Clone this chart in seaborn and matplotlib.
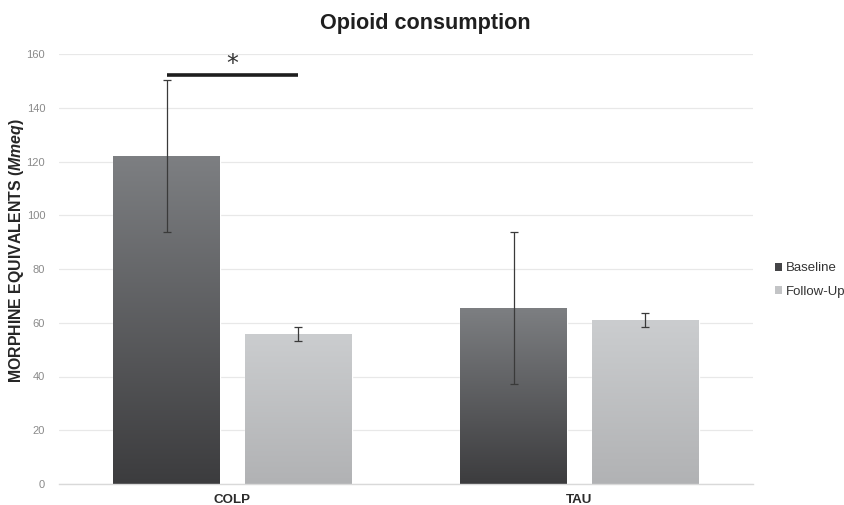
import numpy as np
import pandas as pd
import seaborn as sns
import matplotlib.pyplot as plt
from matplotlib.colors import LinearSegmentedColormap
from matplotlib.patches import Patch

# --- data -------------------------------------------------------------
groups = ["COLP", "TAU"]
conditions = ["Baseline", "Follow-Up"]
baseline = [122.0, 65.5]
baseline_err = [28.2, 28.2]
followup = [55.8, 61.0]
followup_err = [2.6, 2.7]
y_ticks = [0, 20, 40, 60, 80, 100, 120, 140, 160]
sig_level = 152.2  # bracket height for the COLP comparison

df = pd.DataFrame({
    "group": groups * 2,
    "condition": [conditions[0]] * 2 + [conditions[1]] * 2,
    "value": baseline + followup,
})
errors = {conditions[0]: baseline_err, conditions[1]: followup_err}

# --- styling ----------------------------------------------------------
sns.set_style("white")
plt.rcParams["font.family"] = ["Liberation Sans", "DejaVu Sans"]
plt.rcParams["mathtext.fontset"] = "custom"
plt.rcParams["mathtext.it"] = "Liberation Sans:italic:bold"
plt.rcParams["mathtext.rm"] = "Liberation Sans:bold"

dark_top, dark_bottom = "#7d7f82", "#3c3c3e"
light_top, light_bottom = "#cbcdcf", "#b1b2b4"
palette = {conditions[0]: "#5a5b5e", conditions[1]: "#bfc0c2"}
gradients = {
    conditions[0]: LinearSegmentedColormap.from_list("dk", [dark_bottom, dark_top]),
    conditions[1]: LinearSegmentedColormap.from_list("lt", [light_bottom, light_top]),
}

fig = plt.figure(figsize=(8.44, 5.05), dpi=100)
ax = fig.add_axes([59 / 844, 21 / 505, 694 / 844, 430 / 505])

sns.barplot(data=df, x="group", y="value", hue="condition",
            hue_order=conditions, order=groups, palette=palette,
            width=0.76, gap=0.19, errorbar=None, legend=False, ax=ax)

ax.set_xlim(-0.5, 1.5)
ax.set_ylim(0, 160)

# gradient fill and error bars on each bar
grad = np.linspace(0, 1, 256).reshape(-1, 1)
centers = {}
for cond, container in zip(conditions, ax.containers):
    for bar, err, grp in zip(container, errors[cond], groups):
        x0 = bar.get_x()
        w = bar.get_width()
        h = bar.get_height()
        im = ax.imshow(grad, extent=[x0, x0 + w, 0, h], origin="lower",
                       aspect="auto", cmap=gradients[cond], zorder=bar.get_zorder() + 0.1)
        im.set_clip_path(bar)
        xc = x0 + w / 2
        centers[(grp, cond)] = xc
        ax.errorbar(xc, h, yerr=err, fmt="none", ecolor="#3a3a3a",
                    elinewidth=0.9, capsize=2.6, capthick=0.9, zorder=5)

ax.set_xlim(-0.5, 1.5)
ax.set_ylim(0, 160)

# significance bracket
x_a = centers[("COLP", conditions[0])]
x_b = centers[("COLP", conditions[1])]
ax.plot([x_a, x_b], [sig_level, sig_level], color="#1e1e1e", lw=2.6,
        solid_capstyle="butt", zorder=6, clip_on=False)
ax.text((x_a + x_b) / 2, sig_level - 0.5, "*", ha="center", va="bottom",
        fontsize=17, color="#333333", family="DejaVu Sans", clip_on=False,
        zorder=7)

# axes cosmetics
ax.set_yticks(y_ticks)
ax.yaxis.grid(True, color="#e8e8e8", lw=0.9)
ax.set_axisbelow(True)
for side in ["top", "right", "left"]:
    ax.spines[side].set_visible(False)
ax.spines["bottom"].set_color("#d9d9d9")
ax.spines["bottom"].set_linewidth(1.0)
ax.tick_params(axis="y", length=0, pad=10, labelsize=8, labelcolor="#8a8a8a")
ax.tick_params(axis="x", length=0, pad=7, labelsize=9.6, labelcolor="#2b2b2b")
for lbl in ax.get_xticklabels():
    lbl.set_fontweight("bold")
ax.set_xlabel("")
ax.set_ylabel("")

fig.text(17 / 844, 1 - 251 / 505, r"MORPHINE EQUIVALENTS ($\it{Mmeq}$)",
         rotation=90, ha="center", va="center", fontsize=11.4,
         fontweight="bold", color="#262626")

fig.text(425 / 844, 1 - 24 / 505, "Opioid consumption", ha="center",
         va="center", fontsize=15.6, fontweight="bold", color="#1f1f1f")

handles = [Patch(facecolor="#454547", edgecolor="none"),
           Patch(facecolor="#c3c4c6", edgecolor="none")]
fig.legend(handles, conditions, loc="center left",
           bbox_to_anchor=(775 / 844, 1 - 280 / 505), frameon=False,
           fontsize=9.5, handlelength=0.55, handleheight=0.55,
           handletextpad=0.25, labelspacing=0.85, borderpad=0,
           borderaxespad=0, labelcolor="#333333")

fig.savefig("out.png", dpi=100)
